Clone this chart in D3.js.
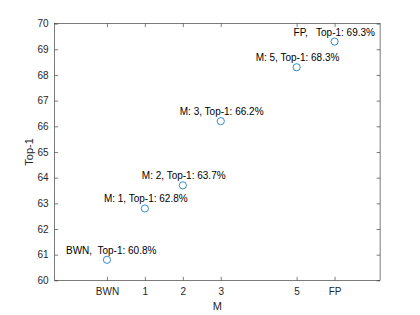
<!DOCTYPE html>
<html><head><meta charset="utf-8">
<script src="https://cdn.jsdelivr.net/npm/d3@7"></script>
<style>body{margin:0;background:#fff}</style>
</head><body>
<svg id="c" width="420" height="315"></svg>
<script>
const xPos = [0, 1, 2, 3, 5, 6];
const xTickLabels = ["BWN", "1", "2", "3", "5", "FP"];
const top1 = [60.8, 62.8, 63.7, 66.2, 68.3, 69.3];
const pointLabels = ["BWN,  Top-1: 60.8%", "M: 1, Top-1: 62.8%", "M: 2, Top-1: 63.7%", "M: 3, Top-1: 66.2%", "M: 5, Top-1: 68.3%", "FP,   Top-1: 69.3%"];
const yTicks = [60, 61, 62, 63, 64, 65, 66, 67, 68, 69, 70];

const L = 54.6, R = 380.1, T = 23.6, B = 280.35;
const svg = d3.select("#c");
const font = "Liberation Sans, Arial, sans-serif";
const axc = "#262626";
const x = d3.scaleLinear().domain([-1.38, 7.2]).range([L, R]);
const y = d3.scaleLinear().domain([60, 70]).range([B, T]);

svg.append("rect").attr("x", L).attr("y", T).attr("width", R - L).attr("height", B - T)
  .attr("fill", "#fff").attr("stroke", "none");

function styleAxis(g) {
  g.selectAll("path").remove();
  g.selectAll("line").attr("stroke", axc).attr("stroke-width", 0.6);
  g.selectAll("text").attr("fill", axc).attr("font-family", font).attr("font-size", 10);
}
const xb = svg.append("g").attr("transform", `translate(0,${B})`)
  .call(d3.axisBottom(x).tickValues(xPos).tickFormat((d, i) => xTickLabels[i]).tickSizeInner(-3.5).tickPadding(8));
styleAxis(xb);
const xt = svg.append("g").attr("transform", `translate(0,${T})`)
  .call(d3.axisTop(x).tickValues(xPos).tickFormat("").tickSizeInner(-3.5));
styleAxis(xt);
const yl = svg.append("g").attr("transform", `translate(${L},0)`)
  .call(d3.axisLeft(y).tickValues(yTicks).tickFormat(d3.format("d")).tickSizeInner(-3.5).tickPadding(6));
styleAxis(yl);
const yr = svg.append("g").attr("transform", `translate(${R},0)`)
  .call(d3.axisRight(y).tickValues(yTicks).tickFormat("").tickSizeInner(-3.5));
styleAxis(yr);

svg.append("rect").attr("x", L).attr("y", T).attr("width", R - L).attr("height", B - T)
  .attr("fill", "none").attr("stroke", axc).attr("stroke-width", 0.6);

svg.selectAll("circle.pt").data(top1).enter().append("circle")
  .attr("cx", (d, i) => x(xPos[i])).attr("cy", d => y(d)).attr("r", 3.6)
  .attr("fill", "none").attr("stroke", "#0072BD").attr("stroke-width", 0.8);

svg.selectAll("text.lbl").data(top1).enter().append("text")
  .attr("x", (d, i) => x(xPos[i] - 1.08)).attr("y", d => y(d) - 6)
  .attr("font-family", font).attr("font-size", 10).attr("fill", "#000")
  .attr("xml:space", "preserve").style("white-space", "pre")
  .text((d, i) => pointLabels[i]);

svg.append("text").attr("x", (L + R) / 2).attr("y", 310).attr("text-anchor", "middle")
  .attr("font-family", font).attr("font-size", 11).attr("fill", axc).text("M");
svg.append("text").attr("transform", `translate(33,${(T + B) / 2}) rotate(-90)`).attr("text-anchor", "middle")
  .attr("font-family", font).attr("font-size", 11).attr("fill", axc).text("Top-1");
</script>
</body></html>
